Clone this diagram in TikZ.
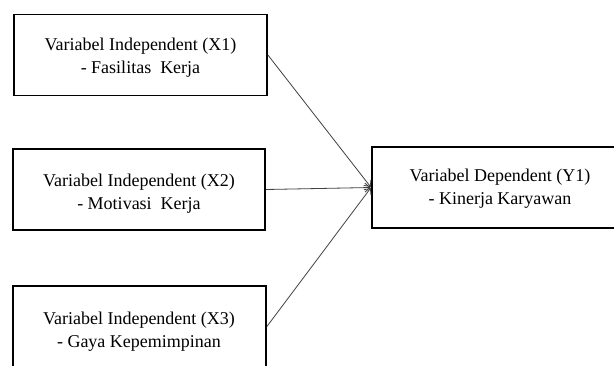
\documentclass[tikz,border=0pt]{standalone}
\usepackage{fontspec}
\setmainfont{Liberation Serif}
\usetikzlibrary{arrows.meta}
\begin{document}
\begin{tikzpicture}[x=1pt,y=-1pt,
  box/.style={draw=black, line width=1.8pt, rectangle, inner sep=0pt,
    minimum width=#1, minimum height=81pt},
  lbl/.style={align=center, inner sep=0pt, font=\fontsize{18}{22.7}\selectfont},
  conn/.style={draw=black!75, line width=0.8pt, shorten >=0.6pt,
    -{Straight Barb[length=5pt,width=9pt]}}]
\useasboundingbox (0,0) rectangle (614,365);
\clip (0,0) rectangle (614,365);
\fill[white] (0,0) rectangle (614,365);
\node[box=253pt] (b1) at (140.5,55) {};
\node[box=252pt] (b2) at (139,189.5) {};
\node[box=253pt] (b3) at (139.5,326.5) {};
\node[box=256pt] (y) at (500,187.5) {};
\node[lbl] (t1) at (140.5,57.8) {Variabel Independent (X1)\\- Fasilitas\ \ Kerja};
\node[lbl] (t2) at (139,193.8) {Variabel Independent (X2)\\- Motivasi\ \ Kerja};
\node[lbl] (t3) at (139,332) {Variabel Independent (X3)\\- Gaya Kepemimpinan};
\node[lbl] (ty) at (500,188.8) {Variabel Dependent (Y1)\\- Kinerja Karyawan};
\draw[conn] (b1.east) -- (y.west);
\draw[conn] (b2.east) -- (y.west);
\draw[conn] (b3.east) -- (y.west);
\end{tikzpicture}
\end{document}
